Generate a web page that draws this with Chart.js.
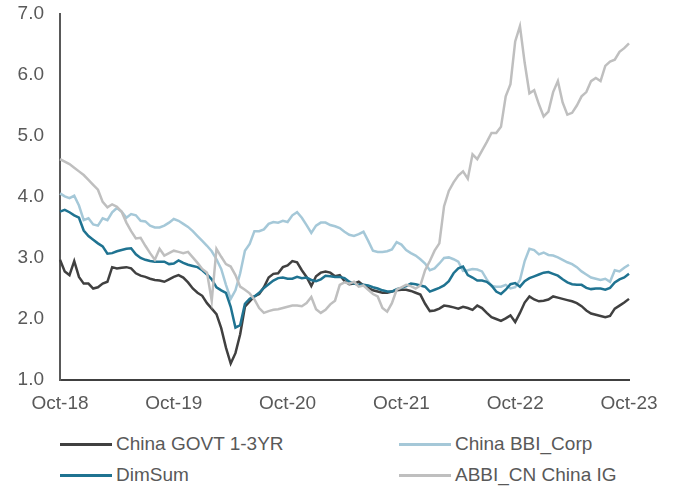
<!DOCTYPE html>
<html>
<head>
<meta charset="utf-8">
<script src="https://cdn.jsdelivr.net/npm/chart.js@4.4.0/dist/chart.umd.min.js"></script>
<style>
  body { margin: 0; background: #fff; font-family: "Liberation Sans", Arial, sans-serif; }
  #wrap { position: relative; width: 678px; height: 486px; }
  #chart { position: absolute; left: 0; top: 0; }
  .leg { position: absolute; display: flex; align-items: center; font-size: 19px; color: #595959; white-space: nowrap; }
  .leg span.ln { display: inline-block; width: 52px; height: 3px; margin-right: 4px; }
</style>
</head>
<body>
<div id="wrap">
  <canvas id="chart" width="678" height="425"></canvas>
  <div id="legend"></div>
</div>
<script>
// Tick labels on the x axis, one per year (every 24 half-month points)
const tickLabels = ['Oct-18', 'Oct-19', 'Oct-20', 'Oct-21', 'Oct-22', 'Oct-23'];
const seriesNames = ['China GOVT 1-3YR', 'China BBI_Corp', 'DimSum', 'ABBI_CN China IG'];

// Yields (%), half-monthly from Oct-18 to Oct-23
const govt = [2.97,2.78,2.72,2.95,2.69,2.58,2.58,2.50,2.52,2.58, 2.61,2.85,2.83,2.84,2.85,2.83,2.75,2.71,2.69,2.66,
  2.64,2.63,2.61,2.65,2.69,2.72,2.68,2.60,2.50,2.43, 2.38,2.26,2.17,2.08,1.85,1.53,1.27,1.44,1.75,2.20,
  2.29,2.37,2.41,2.52,2.68,2.74,2.75,2.85,2.88,2.95, 2.93,2.80,2.69,2.54,2.70,2.76,2.78,2.76,2.70,2.72,
  2.62,2.57,2.58,2.61,2.55,2.51,2.47,2.45,2.43,2.43, 2.45,2.47,2.48,2.48,2.46,2.43,2.40,2.25,2.13,2.14,
  2.17,2.22,2.21,2.19,2.17,2.20,2.18,2.15,2.22,2.18, 2.10,2.03,2.00,1.97,2.01,2.06,1.95,2.10,2.27,2.37,
  2.32,2.29,2.30,2.32,2.37,2.35,2.33,2.31,2.29,2.26, 2.21,2.14,2.09,2.07,2.05,2.03,2.05,2.17,2.22,2.27,
  2.33];
const bbiCorp = [4.06,4.01,3.98,4.02,3.86,3.62,3.65,3.55,3.53,3.65, 3.62,3.75,3.82,3.76,3.66,3.72,3.70,3.61,3.60,3.53,
  3.50,3.50,3.53,3.58,3.64,3.61,3.56,3.51,3.44,3.36, 3.28,3.20,3.11,2.98,2.82,2.56,2.33,2.47,2.75,3.12,
  3.23,3.44,3.44,3.47,3.56,3.59,3.58,3.61,3.59,3.70, 3.75,3.66,3.54,3.41,3.53,3.58,3.58,3.54,3.52,3.49,
  3.43,3.38,3.36,3.39,3.43,3.28,3.12,3.10,3.10,3.11, 3.14,3.26,3.22,3.13,3.08,3.04,2.98,2.91,2.80,2.83,
  2.91,3.00,3.01,2.98,2.94,2.79,2.80,2.82,2.81,2.78, 2.65,2.54,2.53,2.53,2.56,2.50,2.52,2.64,2.95,3.15,
  3.13,3.06,3.09,3.05,3.04,3.01,2.97,2.93,2.90,2.85, 2.78,2.73,2.68,2.66,2.64,2.66,2.61,2.80,2.78,2.84,
  2.89];
const dimSum = [3.76,3.79,3.75,3.70,3.66,3.45,3.36,3.30,3.24,3.19, 3.07,3.08,3.11,3.13,3.15,3.16,3.06,3.00,2.97,2.95,
  2.94,2.94,2.94,2.90,2.91,2.96,2.92,2.89,2.87,2.85, 2.80,2.73,2.65,2.52,2.47,2.43,2.20,1.86,1.90,2.25,
  2.33,2.37,2.43,2.51,2.57,2.63,2.67,2.68,2.66,2.66, 2.69,2.67,2.68,2.64,2.62,2.65,2.71,2.70,2.69,2.69,
  2.67,2.61,2.58,2.56,2.56,2.55,2.52,2.50,2.47,2.45, 2.45,2.49,2.51,2.54,2.58,2.57,2.55,2.53,2.45,2.48,
  2.51,2.55,2.62,2.75,2.83,2.86,2.72,2.68,2.63,2.63, 2.61,2.55,2.45,2.41,2.48,2.57,2.59,2.53,2.62,2.67,
  2.70,2.73,2.76,2.77,2.74,2.71,2.65,2.60,2.57,2.56, 2.56,2.51,2.49,2.50,2.50,2.48,2.51,2.60,2.65,2.68,
  2.74];
const abbiIG = [4.62,4.58,4.54,4.48,4.42,4.36,4.28,4.20,4.12,3.92, 3.83,3.88,3.84,3.76,3.58,3.44,3.32,3.33,3.20,3.08,
  2.97,3.15,3.04,3.08,3.12,3.10,3.08,3.10,3.01,2.92, 2.82,2.76,2.30,3.15,3.02,2.90,2.86,2.72,2.53,2.48,
  2.42,2.32,2.18,2.10,2.13,2.15,2.16,2.18,2.20,2.22, 2.22,2.21,2.26,2.36,2.16,2.10,2.15,2.24,2.30,2.56,
  2.60,2.58,2.61,2.53,2.55,2.48,2.41,2.37,2.18,2.12, 2.26,2.48,2.52,2.56,2.54,2.50,2.55,2.80,2.95,3.12,
  3.24,3.85,4.10,4.24,4.35,4.42,4.30,4.70,4.62,4.76, 4.90,5.05,5.05,5.15,5.65,5.85,6.55,6.80,6.20,5.70,
  5.75,5.52,5.32,5.40,5.72,5.90,5.55,5.35,5.38,5.50, 5.65,5.72,5.90,5.95,5.90,6.15,6.22,6.25,6.38,6.44,
  6.52];

const colors = ['#404040', '#a5c8d8', '#1f7391', '#bfbfbf'];

// half-month categories
const labels = [];
for (let i = 0; i < govt.length; i++) labels.push(i);

const mkSet = (name, data, color, order) => ({
  label: name,
  data: data,
  borderColor: color,
  backgroundColor: color,
  borderWidth: 2.5,
  pointRadius: 0,
  tension: 0,
  order: order
});

const chart = new Chart(document.getElementById('chart'), {
  type: 'line',
  data: {
    labels: labels,
    datasets: [
      mkSet(seriesNames[0], govt, colors[0], 3),
      mkSet(seriesNames[1], bbiCorp, colors[1], 2),
      mkSet(seriesNames[2], dimSum, colors[2], 1),
      mkSet(seriesNames[3], abbiIG, colors[3], 0)
    ]
  },
  options: {
    responsive: false,
    animation: false,
    layout: { padding: { top: 14, right: 49, left: 0, bottom: 0 } },
    plugins: { legend: { display: false }, tooltip: { enabled: false } },
    scales: {
      x: {
        offset: false,
        grid: { display: false, drawTicks: false },
        border: { display: true, color: '#404040', width: 2 },
        ticks: {
          autoSkip: false,
          maxRotation: 0,
          padding: 12,
          color: '#595959',
          font: { family: '"Liberation Sans", Arial', size: 19 },
          callback: (v, i) => (i % 24 === 0 ? tickLabels[i / 24] : '')
        },
        afterFit: s => { s.height = 45; }
      },
      y: {
        min: 1,
        max: 7,
        grid: { display: false, drawTicks: false },
        border: { display: true, color: '#595959', width: 2 },
        ticks: {
          stepSize: 1,
          padding: 16,
          color: '#595959',
          font: { family: '"Liberation Sans", Arial', size: 19 },
          callback: v => v.toFixed(1)
        },
        afterFit: s => { s.width = 60; s.paddingTop = 0; s.paddingBottom = 0; }
      }
    }
  }
});

// legend in two columns, built from the chart's datasets
const legPos = [[60, 444], [399, 444], [60, 475], [399, 475]];
const legEl = document.getElementById('legend');
chart.data.datasets.forEach((ds, i) => {
  const d = document.createElement('div');
  d.className = 'leg';
  d.style.left = legPos[i][0] + 'px';
  d.style.top = (legPos[i][1] - 11) + 'px';
  d.style.height = '22px';
  d.innerHTML = '<span class="ln" style="background:' + ds.borderColor + '"></span>' + ds.label;
  legEl.appendChild(d);
});
</script>
</body>
</html>
